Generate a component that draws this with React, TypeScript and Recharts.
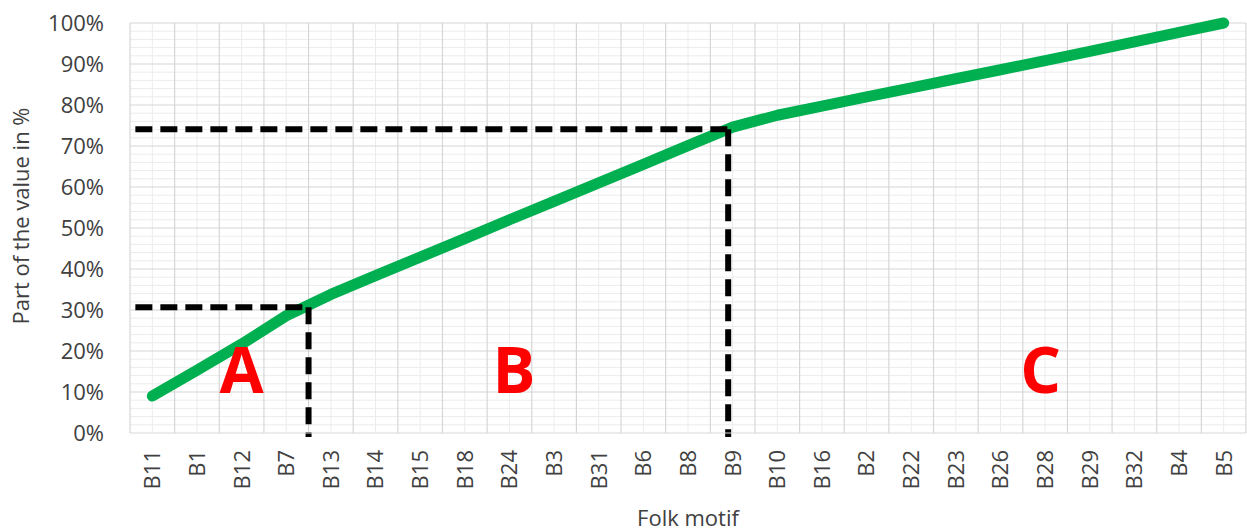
import React from 'react';
import {
    LineChart,
    Line,
    XAxis,
    YAxis,
    ReferenceLine,
    ReferenceDot
} from 'recharts';

// Folk motifs sorted by share of value (ABC analysis)
const motifs = [
    'B11', 'B1', 'B12', 'B7', 'B13', 'B14', 'B15', 'B18', 'B24', 'B3', 'B31', 'B6', 'B8',
    'B9', 'B10', 'B16', 'B2', 'B22', 'B23', 'B26', 'B28', 'B29', 'B32', 'B4', 'B5'
];

// Cumulative share of the value, in %
const cumulativeShare = [
    9, 15.3, 21.7, 28.6, 33.8, 38.4, 42.9, 47.4, 52, 56.5, 61, 65.5, 70.1,
    74.6, 77.5, 79.7, 82, 84.2, 86.4, 88.6, 90.8, 93.1, 95.4, 97.7, 100
];

const yTicks = [0, 10, 20, 30, 40, 50, 60, 70, 80, 90, 100];

// cut-off points of the A / B / C groups (x in category index units)
const cutA = { x: 3.5, y: 30.7 };
const cutB = { x: 12.9, y: 74.1 };

const groupLabels = [
    { label: 'A', x: 2, y: 15.4 },
    { label: 'B', x: 8.1, y: 15.4 },
    { label: 'C', x: 19.9, y: 15.4 }
];

const FONT = '"Open Sans", sans-serif';
const TEXT = '#404040';

const data = motifs.map((m, i) => ({ idx: i, motif: m, share: cumulativeShare[i] }));
const centerTicks = motifs.map((_, i) => i);
const boundaryTicks = [...motifs.map((_, i) => i - 0.5), motifs.length - 0.5];
const minorYTicks = Array.from({ length: 51 }, (_, i) => i * 2).filter((v) => v % 10 !== 0);

const MotifTick = ({ x, y, payload }: any) => (
    <g transform={`translate(${x},${y})`}>
        <text
            transform="rotate(-90)"
            textAnchor="end"
            dy="0.36em"
            fill={TEXT}
            fontSize={22}
            fontFamily={FONT}
        >
            {motifs[payload.value]}
        </text>
    </g>
);

const App: React.FC = () => {
    const dash = { stroke: '#000', strokeWidth: 6, strokeDasharray: '17 8' };
    const left = -0.38;
    const below = -1;
    const minor = { stroke: '#ececec', strokeWidth: 1 };
    const major = { stroke: '#d6d6d6', strokeWidth: 1.2 };

    return (
        <div style={{ position: 'absolute', left: 0, top: 0, width: 1247, height: 531, background: '#fff' }}>
            <LineChart
                width={1247}
                height={531}
                data={data}
                margin={{ top: 23, right: 1, left: 0, bottom: 0 }}
            >
                <XAxis
                    xAxisId="x"
                    dataKey="idx"
                    type="number"
                    domain={[-0.5, motifs.length - 0.5]}
                    ticks={centerTicks}
                    interval={0}
                    height={98}
                    tickSize={0}
                    tickMargin={17}
                    tick={<MotifTick />}
                    axisLine={{ stroke: '#d9d9d9' }}
                    label={{
                        content: ({ viewBox }: any) => (
                            <text
                                x={viewBox.x + viewBox.width / 2}
                                y={viewBox.y + 84}
                                textAnchor="middle"
                                dominantBaseline="central"
                                fill={TEXT}
                                fontSize={22}
                                fontFamily={FONT}
                            >
                                Folk motif
                            </text>
                        )
                    }}
                />

                <YAxis
                    yAxisId="y"
                    type="number"
                    domain={[0, 100]}
                    ticks={yTicks}
                    interval={0}
                    width={130}
                    tickSize={0}
                    tickMargin={26}
                    axisLine={false}
                    tickFormatter={(v: number) => `${v}%`}
                    tick={{ fill: TEXT, fontSize: 22, fontFamily: FONT }}
                    label={{
                        content: ({ viewBox }: any) => {
                            const cx = 20;
                            const cy = viewBox.y + viewBox.height / 2 - 12;
                            return (
                                <text
                                    x={cx}
                                    y={cy}
                                    transform={`rotate(-90, ${cx}, ${cy})`}
                                    textAnchor="middle"
                                    dominantBaseline="central"
                                    fill={TEXT}
                                    fontSize={22}
                                    fontFamily={FONT}
                                >
                                    Part of the value in %
                                </text>
                            );
                        }
                    }}
                />

                {/* minor grid */}
                {minorYTicks.map((v) => (
                    <ReferenceLine key={`my-${v}`} xAxisId="x" yAxisId="y" y={v} {...minor} />
                ))}
                {centerTicks.map((v) => (
                    <ReferenceLine key={`mx-${v}`} xAxisId="x" yAxisId="y" x={v} {...minor} />
                ))}
                {/* major grid */}
                {yTicks.filter((v) => v > 0).map((v) => (
                    <ReferenceLine key={`gy-${v}`} xAxisId="x" yAxisId="y" y={v} {...major} />
                ))}
                {boundaryTicks.map((v) => (
                    <ReferenceLine key={`gx-${v}`} xAxisId="x" yAxisId="y" x={v} {...major} />
                ))}

                <Line
                    xAxisId="x"
                    yAxisId="y"
                    type="linear"
                    dataKey="share"
                    stroke="#00b050"
                    strokeWidth={11}
                    strokeLinecap="round"
                    strokeLinejoin="round"
                    dot={false}
                    activeDot={false}
                    isAnimationActive={false}
                />

                {/* A / B cut-off guides */}
                {[cutA, cutB].map((c, i) => (
                    <ReferenceLine
                        key={`h-${i}`}
                        xAxisId="x"
                        yAxisId="y"
                        segment={[{ x: left, y: c.y }, { x: c.x, y: c.y }]}
                        ifOverflow="visible"
                        {...dash}
                    />
                ))}
                {[cutA, cutB].map((c, i) => (
                    <ReferenceLine
                        key={`v-${i}`}
                        xAxisId="x"
                        yAxisId="y"
                        segment={[{ x: c.x, y: c.y }, { x: c.x, y: below }]}
                        ifOverflow="visible"
                        {...dash}
                    />
                ))}

                {groupLabels.map((g) => (
                    <ReferenceDot
                        key={g.label}
                        xAxisId="x"
                        yAxisId="y"
                        x={g.x}
                        y={g.y}
                        r={0}
                        fill="none"
                        stroke="none"
                        label={{
                            value: g.label,
                            position: 'center',
                            fill: '#ff0000',
                            fontSize: 64,
                            fontWeight: 700,
                            fontFamily: FONT
                        }}
                    />
                ))}
            </LineChart>
        </div>
    );
};

export default App;
